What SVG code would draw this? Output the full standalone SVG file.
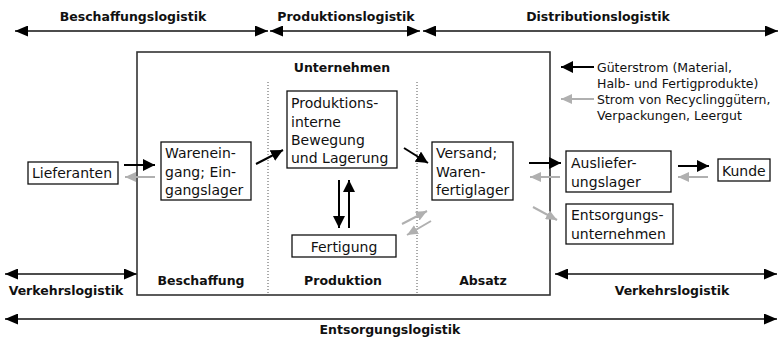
<svg xmlns="http://www.w3.org/2000/svg" width="780" height="339" viewBox="0 0 780 339">
  <style>
    .t { font-family: "DejaVu Sans", "Liberation Sans", sans-serif; font-size: 14px; fill: #111; }
    .lg { font-family: "DejaVu Sans", "Liberation Sans", sans-serif; font-size: 12.5px; fill: #111; }
    .b { font-family: "DejaVu Sans", "Liberation Sans", sans-serif; font-size: 12.5px; font-weight: bold; fill: #111; text-anchor: middle; }
    .box { fill: #fff; stroke: #111; stroke-width: 1.3; }
    .span { stroke: #111; stroke-width: 1.4; fill: none; marker-start: url(#tip); marker-end: url(#tip); }
    .flow { stroke: #000; stroke-width: 2; fill: none; marker-end: url(#blk); }
    .ret { stroke: #b0b0b0; stroke-width: 2; fill: none; marker-end: url(#gry); }
    .div { stroke: #555; stroke-width: 1; stroke-dasharray: 1 2; }
  </style>
  <defs>
    <marker id="tip" markerUnits="userSpaceOnUse" markerWidth="13" markerHeight="11" refX="13" refY="5.5" orient="auto-start-reverse">
      <path d="M0,0 L13,5.5 L0,11 z" fill="#000"/>
    </marker>
    <marker id="blk" markerUnits="userSpaceOnUse" markerWidth="12" markerHeight="12" refX="12" refY="6" orient="auto">
      <path d="M0,0 L12,6 L0,12 z" fill="#000"/>
    </marker>
    <marker id="gry" markerUnits="userSpaceOnUse" markerWidth="11" markerHeight="10" refX="11" refY="5" orient="auto">
      <path d="M0,0 L11,5 L0,10 z" fill="#b0b0b0"/>
    </marker>
  </defs>

  <!-- logistics spans -->
  <g id="spans">
    <line class="span" x1="15" y1="31" x2="268" y2="31"/>
    <line class="span" x1="270" y1="31" x2="420" y2="31"/>
    <line class="span" x1="423" y1="31" x2="778" y2="31"/>
    <line class="span" x1="5" y1="274" x2="137" y2="274"/>
    <line class="span" x1="555" y1="274" x2="777" y2="274"/>
    <line class="span" x1="5" y1="319" x2="777" y2="319"/>
    <text class="b" x="133" y="21">Beschaffungslogistik</text>
    <text class="b" x="346" y="21">Produktionslogistik</text>
    <text class="b" x="598" y="21">Distributionslogistik</text>
    <text class="b" x="66" y="295">Verkehrslogistik</text>
    <text class="b" x="672" y="295">Verkehrslogistik</text>
    <text class="b" x="390" y="334">Entsorgungslogistik</text>
  </g>

  <!-- company frame -->
  <g id="unternehmen">
    <rect x="137" y="52" width="413" height="243" fill="#fff" stroke="#333" stroke-width="1.6"/>
    <line class="div" x1="268" y1="82" x2="268" y2="295"/>
    <line class="div" x1="417" y1="82" x2="417" y2="295"/>
    <text class="b" x="342" y="72">Unternehmen</text>
    <text class="b" x="201" y="285">Beschaffung</text>
    <text class="b" x="343" y="285">Produktion</text>
    <text class="b" x="483" y="285">Absatz</text>
  </g>

  <!-- legend -->
  <g id="legend">
    <line class="flow" x1="594" y1="67" x2="561" y2="67"/>
    <line class="ret" x1="594" y1="99" x2="561" y2="99"/>
    <text class="lg" x="597" y="72">Güterstrom (Material,</text>
    <text class="lg" x="597" y="88">Halb- und Fertigprodukte)</text>
    <text class="lg" x="597" y="104">Strom von Recyclinggütern,</text>
    <text class="lg" x="597" y="120">Verpackungen, Leergut</text>
  </g>

  <g id="lieferanten">
    <rect class="box" x="28" y="162" width="90" height="22"/>
    <text class="t" x="32" y="178">Lieferanten</text>
  </g>
  <g id="wareneingang">
    <rect class="box" x="161" y="142" width="90" height="58"/>
    <text class="t" x="165" y="158">Warenein-</text>
    <text class="t" x="165" y="177">gang; Ein-</text>
    <text class="t" x="165" y="195">gangslager</text>
  </g>
  <g id="produktionsintern">
    <rect class="box" x="287" y="91" width="110" height="77"/>
    <text class="t" x="291" y="108">Produktions-</text>
    <text class="t" x="291" y="127">interne</text>
    <text class="t" x="291" y="145">Bewegung</text>
    <text class="t" x="291" y="163">und Lagerung</text>
  </g>
  <g id="fertigung">
    <rect class="box" x="292" y="235" width="104" height="22"/>
    <text class="t" x="344" y="252" text-anchor="middle">Fertigung</text>
  </g>
  <g id="versand">
    <rect class="box" x="432" y="142" width="81" height="58"/>
    <text class="t" x="436" y="158">Versand;</text>
    <text class="t" x="436" y="177">Waren-</text>
    <text class="t" x="436" y="195">fertiglager</text>
  </g>
  <g id="auslieferungslager">
    <rect class="box" x="566" y="151" width="105" height="41"/>
    <text class="t" x="571" y="168">Ausliefer-</text>
    <text class="t" x="571" y="187">ungslager</text>
  </g>
  <g id="kunde">
    <rect class="box" x="718" y="159" width="52" height="22"/>
    <text class="t" x="722" y="176">Kunde</text>
  </g>
  <g id="entsorgung">
    <rect class="box" x="566" y="204" width="107" height="40"/>
    <text class="t" x="571" y="220">Entsorgungs-</text>
    <text class="t" x="571" y="239">unternehmen</text>
  </g>

  <!-- material and return flows -->
  <g id="connectors">
    <line class="flow" x1="124" y1="165" x2="155" y2="165"/>
    <line class="ret" x1="155" y1="177" x2="125" y2="177"/>
    <line class="flow" x1="256" y1="164" x2="283" y2="150"/>
    <line class="flow" x1="404" y1="148" x2="428" y2="163"/>
    <line class="flow" x1="339" y1="180" x2="339" y2="228"/>
    <line class="flow" x1="349" y1="228" x2="349" y2="180"/>
    <line class="ret" x1="402" y1="224" x2="427" y2="211"/>
    <line class="ret" x1="431" y1="221" x2="407" y2="235"/>
    <line class="flow" x1="529" y1="163" x2="561" y2="163"/>
    <line class="ret" x1="560" y1="177" x2="530" y2="177"/>
    <line class="flow" x1="678" y1="166" x2="709" y2="166"/>
    <line class="ret" x1="708" y1="177" x2="678" y2="177"/>
    <line class="ret" x1="533" y1="207" x2="557" y2="220"/>
  </g>
</svg>
